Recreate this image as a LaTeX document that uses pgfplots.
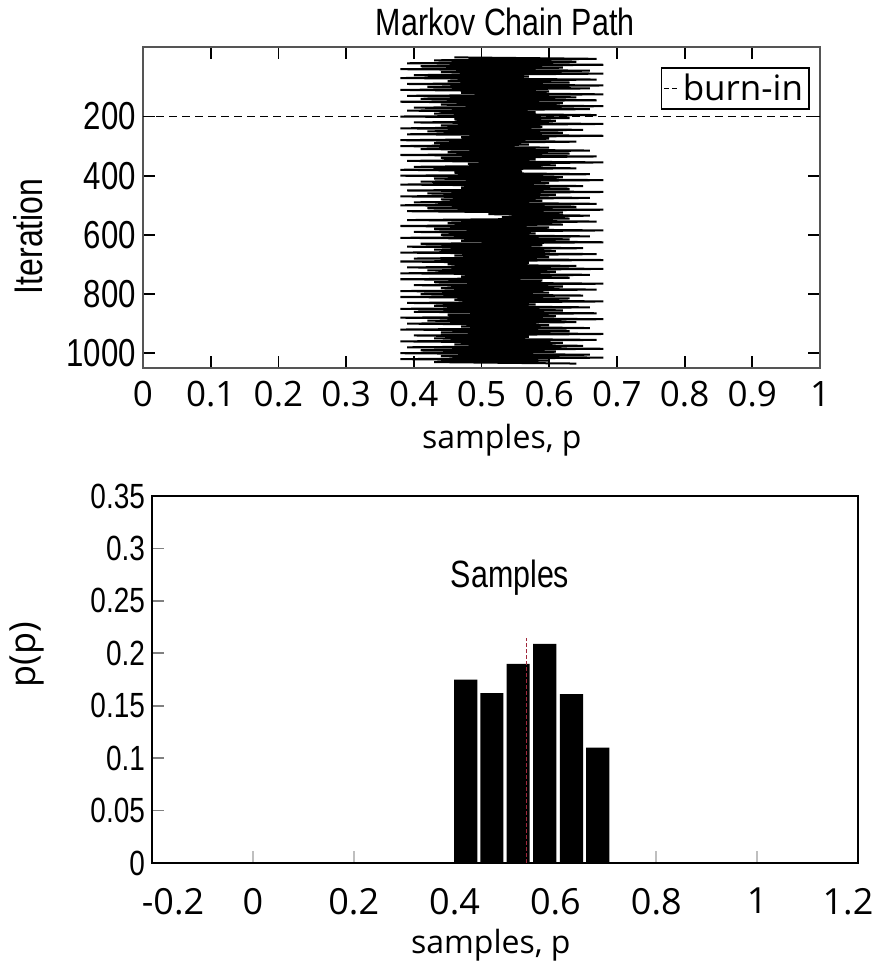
\documentclass[border=0pt]{standalone}
\usepackage{fontspec}
\setmainfont{Open Sans}
\newfontfamily\narrowfont[FakeStretch=0.8]{Liberation Sans}
\usepackage{pgfplots}
\pgfplotsset{compat=1.18}
\definecolor{axgray}{HTML}{555555}
\definecolor{meanred}{HTML}{A0283C}
\begin{document}
\begin{tikzpicture}
\path[use as bounding box] (0,0) rectangle (439pt,-484pt);
% ---------------- top: Markov chain path ----------------
\begin{axis}[
  at={(71.5pt,-184pt)}, anchor=south west,
  scale only axis, width=338.5pt, height=160.5pt,
  xmin=0, xmax=1, ymin=-35, ymax=1050, y dir=reverse,
  xtick={0,0.1,0.2,0.3,0.4,0.5,0.6,0.7,0.8,0.9,1},
  xticklabels={0,0.1,0.2,0.3,0.4,0.5,0.6,0.7,0.8,0.9,1},
  ytick={200,400,600,800,1000},
  yticklabels={200,400,600,800,1000},
  axis line style={axgray, line width=1pt},
  tick style={black, line width=0.9pt},
  major tick length=6pt,
  tick align=inside,
  xticklabel style={font=\fontsize{17.5}{20}\selectfont, yshift=-3pt},
  yticklabel style={font=\narrowfont\fontsize{19.5}{22}\selectfont},
  title={Markov Chain Path},
  title style={font=\narrowfont\fontsize{19}{22}\selectfont, at={(axis description cs:0.535,1.04)}, anchor=center},
  xlabel={samples, p},
  xlabel style={font=\fontsize{16}{19}\selectfont, at={(axis description cs:0.53,-0.224)}, anchor=center},
  ylabel={Iteration},
  ylabel style={font=\narrowfont\fontsize{20}{23}\selectfont, at={(axis description cs:-0.17,0.41)}, anchor=center},
  legend style={at={(0.985,0.938)}, anchor=north east, draw=black, line width=0.8pt,
    font=\fontsize{17.5}{20}\selectfont, inner xsep=1pt, inner ysep=1pt},
  legend cell align=left,
]
\addplot[black, line width=0.9pt, dash pattern=on 4pt off 2.5pt,
  legend image code/.code={\draw[black, line width=0.6pt, dash pattern=on 2.5pt off 1.5pt] (0pt,0pt) -- (7pt,0pt);}]
  coordinates {(0,200) (1,200)};
\addlegendentry{burn-in}
\addplot[black, line width=1pt, forget plot] coordinates {
(0.46,0) (0.67,5) (0.43,10) (0.64,15) (0.39,20) (0.68,25) (0.41,30) (0.62,35) (0.38,40) (0.66,45)
(0.44,50) (0.68,55) (0.40,60) (0.57,65) (0.38,70) (0.67,75) (0.45,80) (0.63,85) (0.39,90) (0.68,95)
(0.42,100) (0.66,105) (0.38,110) (0.60,115) (0.47,120) (0.68,125) (0.39,130) (0.64,135) (0.41,140) (0.67,145)
(0.38,150) (0.62,155) (0.44,160) (0.68,165) (0.40,170) (0.66,175) (0.39,180) (0.58,185) (0.43,190) (0.67,195)
(0.38,200) (0.63,205) (0.46,210) (0.61,215) (0.40,220) (0.68,225) (0.44,230) (0.59,235) (0.38,240) (0.65,245)
(0.42,250) (0.62,255) (0.39,260) (0.68,265) (0.47,270) (0.60,275) (0.38,280) (0.64,285) (0.43,290) (0.57,295)
(0.38,300) (0.60,305) (0.41,310) (0.66,315) (0.45,320) (0.63,325) (0.38,330) (0.67,335) (0.44,340) (0.58,345)
(0.39,350) (0.68,355) (0.48,360) (0.61,365) (0.40,370) (0.64,375) (0.38,380) (0.56,385) (0.46,390) (0.66,395)
(0.38,400) (0.62,405) (0.43,410) (0.68,415) (0.41,420) (0.60,425) (0.38,430) (0.65,435) (0.47,440) (0.63,445)
(0.39,450) (0.68,455) (0.42,460) (0.61,465) (0.38,470) (0.66,475) (0.44,480) (0.59,485) (0.40,490) (0.67,495)
(0.38,500) (0.64,505) (0.42,510) (0.68,515) (0.39,520) (0.62,525) (0.51,530) (0.66,535) (0.53,540) (0.63,545)
(0.39,550) (0.67,555) (0.45,560) (0.62,565) (0.38,570) (0.60,575) (0.43,580) (0.68,585) (0.40,590) (0.58,595)
(0.44,600) (0.66,605) (0.38,610) (0.63,615) (0.47,620) (0.68,625) (0.41,630) (0.59,635) (0.39,640) (0.65,645)
(0.43,650) (0.61,655) (0.38,660) (0.67,665) (0.46,670) (0.60,675) (0.40,680) (0.68,685) (0.38,690) (0.57,695)
(0.45,700) (0.64,705) (0.39,710) (0.68,715) (0.42,720) (0.61,725) (0.38,730) (0.66,735) (0.47,740) (0.63,745)
(0.38,750) (0.59,755) (0.43,760) (0.68,765) (0.40,770) (0.62,775) (0.44,780) (0.67,785) (0.38,790) (0.60,795)
(0.41,800) (0.65,805) (0.38,810) (0.63,815) (0.46,820) (0.68,825) (0.39,830) (0.58,835) (0.43,840) (0.66,845)
(0.38,850) (0.62,855) (0.40,860) (0.67,865) (0.45,870) (0.61,875) (0.38,880) (0.68,885) (0.42,890) (0.64,895)
(0.39,900) (0.60,905) (0.47,910) (0.66,915) (0.38,920) (0.63,925) (0.44,930) (0.68,935) (0.40,940) (0.57,945)
(0.43,950) (0.67,955) (0.38,960) (0.62,965) (0.46,970) (0.65,975) (0.39,980) (0.68,985) (0.41,990) (0.61,995)
(0.38,1000) (0.66,1005) (0.44,1010) (0.68,1015) (0.38,1020) (0.60,1025) (0.43,1030) (0.64,1035)
};
\end{axis}
% ---------------- bottom: histogram ----------------
\begin{axis}[
  at={(76pt,-431.5pt)}, anchor=south west,
  scale only axis, width=353pt, height=183.5pt,
  xmin=-0.2, xmax=1.2, ymin=0, ymax=0.35,
  xtick={-0.2,0,0.2,0.4,0.6,0.8,1,1.2},
  xticklabels={\hspace*{21pt}-0.2,0,0.2,0.4,0.6,0.8,1,1.2\hspace*{10pt}},
  ytick={0,0.05,0.1,0.15,0.2,0.25,0.3,0.35},
  yticklabels={0,0.05,0.1,0.15,0.2,0.25,0.3,0.35},
  tick pos=left, tick align=inside,
  major tick length=6pt,
  xtick style={gray!50, line width=0.8pt},
  ytick style={gray, line width=0.8pt},
  axis line style={black, line width=1.3pt},
  xticklabel style={font=\fontsize{18}{21}\selectfont, yshift=-9pt},
  yticklabel style={font=\narrowfont\fontsize{17.5}{20}\selectfont},
  xlabel={samples, p},
  xlabel style={font=\fontsize{16}{19}\selectfont, at={(axis description cs:0.48,-0.223)}, anchor=center},
  ylabel={p(p)},
  ylabel style={font=\fontsize{18}{21}\selectfont, at={(axis description cs:-0.177,0.567)}, anchor=center},
]
\addplot[ybar, bar width=0.046, fill=black, draw=none] coordinates {
(0.422,0.175) (0.474,0.162) (0.526,0.190) (0.579,0.209) (0.632,0.161) (0.684,0.110)
};
\addplot[meanred, line width=0.6pt, dash pattern=on 2pt off 1pt] coordinates {(0.543,0) (0.543,0.215)};
\node[font=\narrowfont\fontsize{19}{22}\selectfont] at (axis cs:0.51,0.272) {Samples};
\end{axis}
\end{tikzpicture}
\end{document}
